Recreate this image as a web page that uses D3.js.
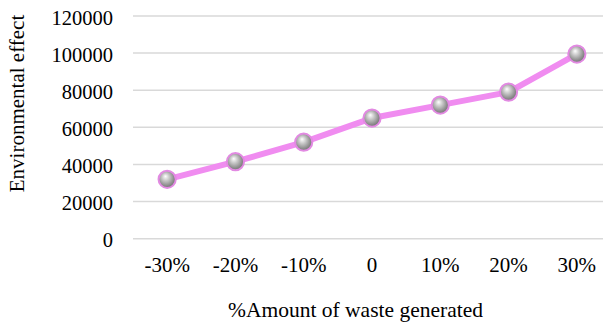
<!DOCTYPE html>
<html>
<head>
<meta charset="utf-8">
<script src="https://cdnjs.cloudflare.com/ajax/libs/d3/7.8.5/d3.min.js"></script>
<style>
  html, body { margin: 0; padding: 0; background: #fff; }
  svg { display: block; }
</style>
</head>
<body>
<svg id="chart" width="603" height="322"></svg>
<script>
// Waste-generation scenarios and their environmental effect
const categories = ["-30%", "-20%", "-10%", "0", "10%", "20%", "30%"];
const effectValues = [32000, 41500, 52000, 65000, 72000, 79000, 99500];
const yTicks = [0, 20000, 40000, 60000, 80000, 100000, 120000];

const FONT = "'Liberation Serif'";
const svg = d3.select("#chart");
const plot = { left: 133, right: 611, top: 16, bottom: 238.7 };

const x = d3.scaleBand().domain(categories).range([plot.left, plot.right]).padding(0);
const y = d3.scaleLinear().domain([0, 120000]).range([plot.bottom, plot.top]);
const cx = c => x(c) + x.bandwidth() / 2;

// Sphere shading for markers
const defs = svg.append("defs");
const grad = defs.append("radialGradient")
  .attr("id", "sphere").attr("cx", "0.45").attr("cy", "0.45").attr("r", "0.6")
  .attr("fx", "0.4").attr("fy", "0.32");
grad.append("stop").attr("offset", "0").attr("stop-color", "#ffffff");
grad.append("stop").attr("offset", "0.3").attr("stop-color", "#d0d0d0");
grad.append("stop").attr("offset", "0.75").attr("stop-color", "#8c8c8c");
grad.append("stop").attr("offset", "1").attr("stop-color", "#6a6a6a");

// Horizontal gridlines
svg.append("g").selectAll("line").data(yTicks).join("line")
  .attr("x1", plot.left).attr("x2", plot.right)
  .attr("y1", d => y(d)).attr("y2", d => y(d))
  .attr("stroke", "#d9d9d9").attr("stroke-width", 1.5);

// Y axis labels
const yAxis = d3.axisLeft(y).tickValues(yTicks).tickFormat(d3.format("d")).tickSize(0).tickPadding(0);
const gy = svg.append("g").attr("transform", `translate(${113},0)`).call(yAxis);
gy.select(".domain").remove();
gy.selectAll("text")
  .style("font-family", FONT).style("font-size", "20.5px").attr("fill", "#000")
  .attr("dy", "0.4em");

// X axis labels
const xAxis = d3.axisBottom(x).tickSize(0).tickPadding(0);
const gx = svg.append("g").attr("transform", `translate(0,${271.5})`).call(xAxis);
gx.select(".domain").remove();
gx.selectAll("text")
  .style("font-family", FONT).style("font-size", "21px").attr("fill", "#000")
  .attr("y", 0).attr("dy", 0);

// Line
const line = d3.line()
  .x((d, i) => cx(categories[i]))
  .y(d => y(d));
svg.append("path").datum(effectValues)
  .attr("d", line)
  .attr("fill", "none")
  .attr("stroke", "#f08cf0")
  .attr("stroke-width", 6)
  .attr("stroke-linejoin", "round");

// Markers
svg.append("g").selectAll("circle").data(effectValues).join("circle")
  .attr("cx", (d, i) => cx(categories[i]))
  .attr("cy", d => y(d))
  .attr("r", 8.6)
  .attr("fill", "url(#sphere)")
  .attr("stroke", "#e28ae2")
  .attr("stroke-width", 2);

// Axis titles
svg.append("text")
  .attr("transform", `translate(23.5,103.5) rotate(-90)`)
  .attr("text-anchor", "middle")
  .style("font-family", FONT).style("font-size", "21px")
  .text("Environmental effect");

svg.append("text")
  .attr("x", 355.5).attr("y", 316.5)
  .attr("text-anchor", "middle")
  .style("font-family", FONT).style("font-size", "21.5px")
  .text("%Amount of waste generated");
</script>
</body>
</html>
